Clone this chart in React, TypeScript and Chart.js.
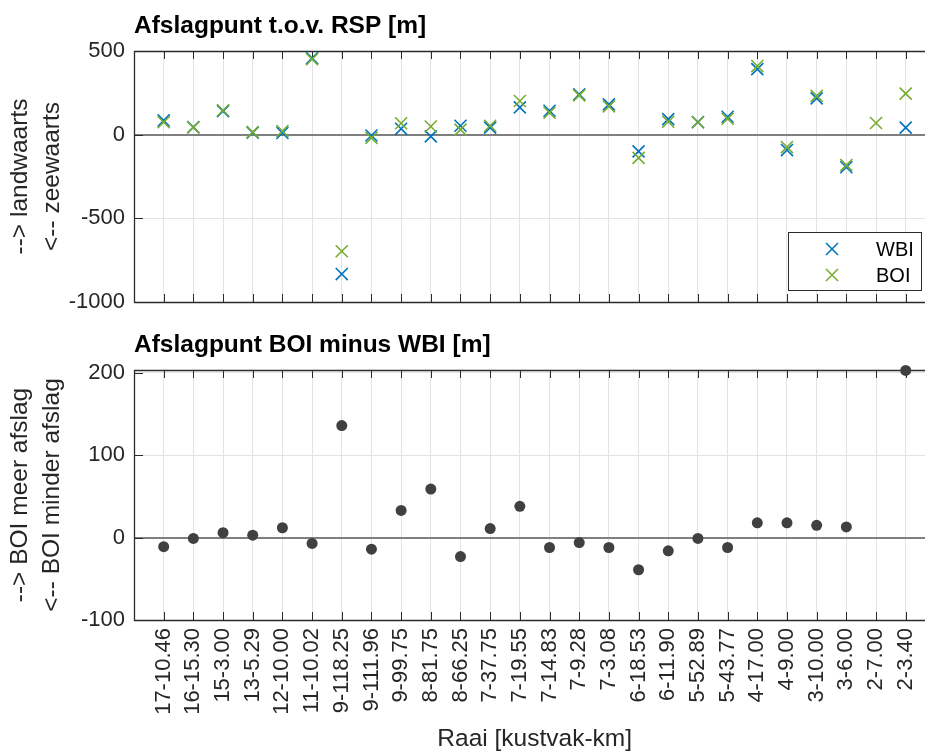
import React, { useEffect, useRef } from 'react';
import { Chart, registerables } from 'chart.js';
Chart.register(...registerables);

const categories = ['17-10.46','16-15.30','15-3.00','13-5.29','12-10.00','11-10.02','9-118.25','9-111.96','9-99.75','8-81.75','8-66.25','7-37.75','7-19.55','7-14.83','7-9.28','7-3.08','6-18.53','6-11.90','5-52.89','5-43.77','4-17.00','4-9.00','3-10.00','3-6.00','2-7.00','2-3.40'];
const wbi: (number | null)[] = [85,45,140,12,10,458,-833,-5,35,-10,53,42,163,143,241,181,-100,93,75,107,392,-92,217,-195,null,42];
const boi: (number | null)[] = [74,44,146,15,22,451,-697,-19,68,49,30,53,201,131,235,169,-139,77,74,95,410,-74,232,-182,70,245];
const diff: (number | null)[] = [-11,-1,6,3,12,-7,136,-14,33,59,-23,11,38,-12,-6,-12,-39,-16,-1,-12,18,18,15,13,null,203];
const topTicks = [-1000, -500, 0, 500];
const bottomTicks = [-100, 0, 100, 200];
const topTitle = 'Afslagpunt t.o.v. RSP [m]';
const bottomTitle = 'Afslagpunt BOI minus WBI [m]';
const topYLabel = ['--> landwaarts', '<-- zeewaarts'];
const bottomYLabel = ['--> BOI meer afslag', '<-- BOI minder afslag'];
const xLabel = 'Raai [kustvak-km]';
const legendNames = ['WBI', 'BOI'];

const FONT = '"Liberation Sans", Arial, Helvetica, sans-serif';
const BLUE = '#0072BD';
const GREEN = '#77AC30';
const AXIS = '#2b2b2b';
const GRID = '#e3e3e3';
const XMAX = 26.65;
const TICK_SIZE = 22;
const LABEL_SIZE = 24.5;

const toPoints = (arr: (number | null)[]) =>
  arr.map((v, i) => (v === null ? null : { x: i + 1, y: v })).filter((p) => p !== null) as { x: number; y: number }[];

function makeDecor(opts: { title: string; ylabel: string[]; legend?: boolean; xlabel?: string; yTicks: number[] }) {
  return {
    id: 'decor',
    beforeDatasetsDraw(chart: any) {
      const ctx = chart.ctx;
      const { left, top, right, bottom } = chart.chartArea;
      const xs = chart.scales.x;
      const ys = chart.scales.y;
      ctx.save();
      ctx.strokeStyle = AXIS;
      ctx.lineWidth = 1;
      ctx.beginPath();
      for (let i = 1; i <= categories.length; i++) {
        const px = Math.round(xs.getPixelForValue(i)) + 0.5;
        ctx.moveTo(px, top);
        ctx.lineTo(px, top + 8);
        ctx.moveTo(px, bottom);
        ctx.lineTo(px, bottom - 8);
      }
      for (const t of opts.yTicks) {
        const py = Math.round(ys.getPixelForValue(t)) + 0.5;
        ctx.moveTo(left, py);
        ctx.lineTo(left + 9, py);
      }
      ctx.stroke();
      ctx.lineWidth = 1.3;
      ctx.beginPath();
      ctx.moveTo(right + 2, Math.round(top) + 0.5);
      ctx.lineTo(Math.round(left) + 0.5, Math.round(top) + 0.5);
      ctx.lineTo(Math.round(left) + 0.5, Math.round(bottom) + 0.5);
      ctx.lineTo(right + 2, Math.round(bottom) + 0.5);
      ctx.stroke();
      ctx.restore();
    },
    afterDraw(chart: any) {
      const ctx = chart.ctx;
      const { left, top, bottom } = chart.chartArea;
      ctx.save();
      ctx.fillStyle = '#000';
      ctx.font = `bold ${LABEL_SIZE}px ${FONT}`;
      ctx.textAlign = 'left';
      ctx.textBaseline = 'alphabetic';
      ctx.fillText(opts.title, left, top - 18);
      ctx.fillStyle = '#262626';
      ctx.font = `${LABEL_SIZE}px ${FONT}`;
      ctx.textAlign = 'center';
      ctx.textBaseline = 'middle';
      const cy = (top + bottom) / 2;
      opts.ylabel.forEach((line, k) => {
        ctx.save();
        ctx.translate(20 + k * 32, cy);
        ctx.rotate(-Math.PI / 2);
        ctx.fillText(line, 0, 0);
        ctx.restore();
      });
      if (opts.xlabel) {
        const cx = chart.scales.x.getPixelForValue(13.5);
        ctx.fillText(opts.xlabel, cx, bottom + 119);
      }
      if (opts.legend) {
        const bx = 788.5, by = 232.5, bw = 133, bh = 58;
        ctx.fillStyle = '#fff';
        ctx.fillRect(bx, by, bw, bh);
        ctx.strokeStyle = AXIS;
        ctx.lineWidth = 1;
        ctx.strokeRect(bx, by, bw, bh);
        const colors = [BLUE, GREEN];
        legendNames.forEach((name, k) => {
          const my = 249 + k * 26;
          const mx = 832;
          ctx.strokeStyle = colors[k];
          ctx.lineWidth = 1.5;
          ctx.beginPath();
          ctx.moveTo(mx - 6, my - 6);
          ctx.lineTo(mx + 6, my + 6);
          ctx.moveTo(mx - 6, my + 6);
          ctx.lineTo(mx + 6, my - 6);
          ctx.stroke();
          ctx.fillStyle = '#000';
          ctx.font = `20px ${FONT}`;
          ctx.textAlign = 'left';
          ctx.textBaseline = 'middle';
          ctx.fillText(name, 876, my + 1);
        });
      }
      ctx.restore();
    },
  };
}

function xScale(showLabels: boolean, height: number) {
  return {
    type: 'linear' as const,
    min: 0,
    max: XMAX,
    afterBuildTicks: (s: any) => {
      s.ticks = categories.map((_, i) => ({ value: i + 1 }));
    },
    afterFit: (s: any) => {
      s.height = height;
      s.paddingLeft = 0;
      s.paddingRight = 0;
    },
    border: { display: false },
    grid: { color: GRID, lineWidth: 1, drawTicks: false },
    ticks: {
      display: showLabels,
      autoSkip: false,
      minRotation: 90,
      maxRotation: 90,
      padding: 8,
      color: '#262626',
      font: { family: FONT, size: TICK_SIZE },
      callback: (v: any) => categories[Math.round(v) - 1] ?? '',
    },
  };
}

function yScale(min: number, max: number, ticks: number[]) {
  return {
    type: 'linear' as const,
    min,
    max,
    afterBuildTicks: (s: any) => {
      s.ticks = ticks.map((v) => ({ value: v }));
    },
    afterFit: (s: any) => {
      s.width = 134;
    },
    border: { display: false },
    grid: {
      drawTicks: false,
      color: (c: any) => (c.tick && c.tick.value === 0 ? '#7f7f7f' : GRID),
      lineWidth: (c: any) => (c.tick && c.tick.value === 0 ? 2 : 1),
    },
    ticks: {
      padding: 9,
      color: '#262626',
      font: { family: FONT, size: TICK_SIZE },
      callback: (v: any) => String(v),
    },
  };
}

export default function App() {
  const topRef = useRef<HTMLCanvasElement>(null);
  const botRef = useRef<HTMLCanvasElement>(null);

  useEffect(() => {
    const top = new Chart(topRef.current!, {
      type: 'scatter',
      data: {
        datasets: [
          {
            label: 'WBI',
            data: toPoints(wbi),
            order: 2,
            pointStyle: 'crossRot',
            radius: 8.5,
            borderColor: BLUE,
            backgroundColor: BLUE,
            borderWidth: 1.6,
          },
          {
            label: 'BOI',
            data: toPoints(boi),
            order: 1,
            pointStyle: 'crossRot',
            radius: 8.5,
            borderColor: GREEN,
            backgroundColor: GREEN,
            borderWidth: 1.6,
          },
        ],
      },
      options: {
        animation: false,
        responsive: false,
        layout: { autoPadding: false, padding: { top: 51, left: 0, right: 0, bottom: 0 } },
        plugins: { legend: { display: false }, tooltip: { enabled: false }, title: { display: false } },
        scales: { x: xScale(false, 28), y: yScale(-1000, 500, topTicks) },
      },
      plugins: [makeDecor({ title: topTitle, ylabel: topYLabel, legend: true, yTicks: topTicks })],
    });

    const bot = new Chart(botRef.current!, {
      type: 'scatter',
      data: {
        datasets: [
          {
            label: 'BOI - WBI',
            data: toPoints(diff),
            pointStyle: 'circle',
            radius: 5.5,
            borderWidth: 0,
            backgroundColor: '#404040',
            borderColor: '#404040',
            clip: false as any,
          },
        ],
      },
      options: {
        animation: false,
        responsive: false,
        layout: { autoPadding: false, padding: { top: 40, left: 0, right: 0, bottom: 0 } },
        plugins: { legend: { display: false }, tooltip: { enabled: false }, title: { display: false } },
        scales: { x: xScale(true, 131), y: yScale(-100, 203.5, bottomTicks) },
      },
      plugins: [makeDecor({ title: bottomTitle, ylabel: bottomYLabel, xlabel: xLabel, yTicks: bottomTicks })],
    });

    return () => {
      top.destroy();
      bot.destroy();
    };
  }, []);

  return (
    <div style={{ position: 'absolute', left: 0, top: 0, width: 925, height: 751, background: '#fff', overflow: 'hidden' }}>
      <canvas ref={topRef} width={925} height={330} style={{ position: 'absolute', left: 0, top: 0, width: 925, height: 330 }} />
      <canvas ref={botRef} width={925} height={421} style={{ position: 'absolute', left: 0, top: 330, width: 925, height: 421 }} />
    </div>
  );
}
